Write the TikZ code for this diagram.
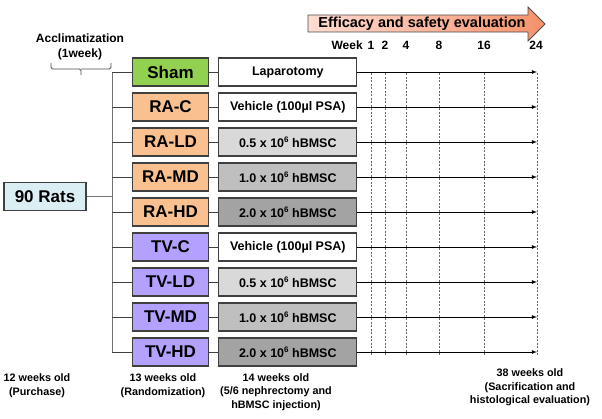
\documentclass[tikz,border=0pt]{standalone}
\usepackage{fontspec}
\setmainfont{Liberation Sans}
\usetikzlibrary{positioning}

\definecolor{shamverde}{HTML}{92D050}
\definecolor{ranaranja}{HTML}{FAC090}
\definecolor{tvmorado}{HTML}{B3A0FF}
\definecolor{ratazul}{HTML}{DBEEF4}
\definecolor{grisA}{HTML}{D9D9D9}
\definecolor{grisB}{HTML}{BFBFBF}
\definecolor{grisC}{HTML}{A3A3A3}
\definecolor{flechaIzq}{HTML}{FFDCD2}
\definecolor{flechaDer}{HTML}{F5926B}

\newcommand{\seis}{\raisebox{0.42em}{\fontsize{8}{8}\selectfont 6}}

\tikzset{
  grupo/.style={draw=black!75, line width=1.3pt, minimum width=76pt, minimum height=28pt,
    inner sep=0pt, font=\fontsize{17}{19}\selectfont\bfseries},
  trat/.style={draw=black!75, line width=1.3pt, minimum width=138pt, minimum height=28pt,
    inner sep=0pt, font=\fontsize{12.5}{14}\selectfont\bfseries},
  etiqueta/.style={align=center, inner sep=0pt, font=\fontsize{10.8}{13.5}\selectfont\bfseries},
  semana/.style={inner sep=0pt, font=\fontsize{12}{14}\selectfont\bfseries},
  rama/.style={draw=black!75, line width=1pt},
  tronco/.style={draw=black!55, line width=1pt},
  flecha/.style={-latex, line width=0.8pt},
  guia/.style={draw=black!60, line width=0.6pt, dash pattern=on 2pt off 1.5pt}
}

\begin{document}
\begin{tikzpicture}[x=1pt, y=-1pt]
  \useasboundingbox (0,0) rectangle (602,418);

  % Flecha grande de evaluacion
  \shadedraw[left color=flechaIzq, right color=flechaDer, draw=black!70, line width=0.8pt]
    (308,15) -- (528,15) -- (528,7) -- (545,24) -- (528,41) -- (528,32) -- (308,32) -- cycle;
  \node[inner sep=0pt, font=\fontsize{14.5}{16}\selectfont\bfseries] (evaluacion) at (422,24)
    {Efficacy and safety evaluation};

  % Semanas
  \node[semana] (w1) at (371,45) {1};
  \node[semana, left=4.5pt of w1] (week) {Week};
  \node[semana] (w2) at (385,45) {2};
  \node[semana] (w4) at (406,45) {4};
  \node[semana] (w8) at (439,45) {8};
  \node[semana] (w16) at (484,45) {16};
  \node[semana] (w24) at (536,45) {24};

  % Aclimatacion
  \node[etiqueta, font=\fontsize{12}{14.5}\selectfont\bfseries] (aclim) at (80,47)
    {Acclimatization\\(1week)};
  \coordinate (llaveIzq) at (51,63);
  \coordinate (llaveDer) at (111,63);
  \coordinate (llavePunta) at (81,75);
  \draw[black!70, line width=0.8pt, rounded corners=1.5pt]
    (llaveIzq) |- (81,69) -- (llavePunta);
  \draw[black!70, line width=0.8pt, rounded corners=1.5pt]
    (llaveDer) |- (81,69);

  % Grupos
  \node[grupo, fill=shamverde] (sham) at (170.5,72) {Sham};
  \node[grupo, fill=ranaranja] (rac) at (170.5,107) {RA-C};
  \node[grupo, fill=ranaranja] (rald) at (170.5,142) {RA-LD};
  \node[grupo, fill=ranaranja] (ramd) at (170.5,177) {RA-MD};
  \node[grupo, fill=ranaranja] (rahd) at (170.5,212) {RA-HD};
  \node[grupo, fill=tvmorado] (tvc) at (170.5,247) {TV-C};
  \node[grupo, fill=tvmorado] (tvld) at (170.5,282) {TV-LD};
  \node[grupo, fill=tvmorado] (tvmd) at (170.5,317) {TV-MD};
  \node[grupo, fill=tvmorado] (tvhd) at (170.5,352) {TV-HD};

  % Tratamientos
  \node[trat, fill=white, right=9pt of sham] (tSham) {Laparotomy};
  \node[trat, fill=white, right=9pt of rac] (tRAC) {Vehicle (100µl PSA)};
  \node[trat, fill=grisA, right=9pt of rald] (tRALD) {0.5 x 10\seis\ hBMSC};
  \node[trat, fill=grisB, right=9pt of ramd] (tRAMD) {1.0 x 10\seis\ hBMSC};
  \node[trat, fill=grisC, right=9pt of rahd] (tRAHD) {2.0 x 10\seis\ hBMSC};
  \node[trat, fill=white, right=9pt of tvc] (tTVC) {Vehicle (100µl PSA)};
  \node[trat, fill=grisA, right=9pt of tvld] (tTVLD) {0.5 x 10\seis\ hBMSC};
  \node[trat, fill=grisB, right=9pt of tvmd] (tTVMD) {1.0 x 10\seis\ hBMSC};
  \node[trat, fill=grisC, right=9pt of tvhd] (tTVHD) {2.0 x 10\seis\ hBMSC};

  % 90 ratas y tronco
  \node[draw=black!75, line width=1.3pt, fill=ratazul, minimum width=82pt, minimum height=28pt,
    inner sep=0pt, font=\fontsize{17}{19}\selectfont\bfseries] (ratas) at (45,196.5) {90 Rats};
  \coordinate (tronco) at (112,196.5);
  \coordinate (fin) at (537,0);
  \coordinate (cabeza) at (0,73);
  \coordinate (pie) at (0,355);
  \draw[tronco] (ratas.east) -- (tronco);
  \draw[tronco] (tronco |- sham) -- (tronco |- tvhd);

  % Lineas verticales de semanas
  \foreach \w in {w1,w2,w4,w8,w16}
    \draw[guia] (\w |- cabeza) -- (\w |- pie);
  \draw[guia] (fin |- cabeza) -- (fin |- pie);

  % Ramas y flechas
  \foreach \g/\t in {sham/tSham, rac/tRAC, rald/tRALD, ramd/tRAMD, rahd/tRAHD,
                     tvc/tTVC, tvld/tTVLD, tvmd/tTVMD, tvhd/tTVHD} {
    \draw[rama] (tronco |- \g) -- (\g.west);
    \draw[rama] (\g.east) -- (\t.west);
    \draw[flecha] (\t.east) -- (fin |- \t);
  }

  % Edades
  \node[etiqueta] (edad12) at (37,385.5) {12 weeks old\\(Purchase)};
  \node[etiqueta] (edad13) at (163,385.5) {13 weeks old\\(Randomization)};
  \node[etiqueta] (edad14) at (276,392) {14 weeks old\\(5/6 nephrectomy and\\hBMSC injection)};
  \node[etiqueta] (edad38) at (530,387.5) {38 weeks old\\(Sacrification and\\histological evaluation)};
\end{tikzpicture}
\end{document}
